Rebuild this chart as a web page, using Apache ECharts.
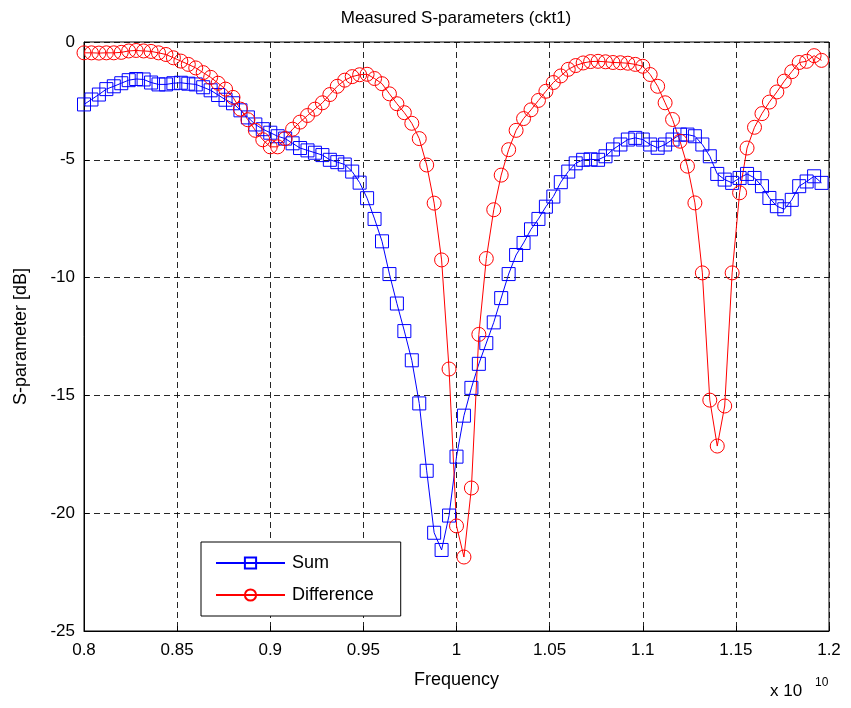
<!DOCTYPE html>
<html>
<head>
<meta charset="utf-8">
<script src="https://cdn.jsdelivr.net/npm/echarts@6/dist/echarts.min.js"></script>
<style>
html,body{margin:0;padding:0;background:#fff;}
#c{width:851px;height:708px;}
</style>
</head>
<body>
<div id="c"></div>
<script>
// Frequency in units of 1e10 Hz
var freq = [0.800,0.804,0.808,0.812,0.816,0.820,0.824,0.828,0.832,0.836,
0.840,0.844,0.848,0.852,0.856,0.860,0.864,0.868,0.872,0.876,
0.880,0.884,0.888,0.892,0.896,0.900,0.904,0.908,0.912,0.916,
0.920,0.924,0.928,0.932,0.936,0.940,0.944,0.948,0.952,0.956,
0.960,0.964,0.968,0.972,0.976,0.980,0.984,0.988,0.992,0.996,
1.000,1.004,1.008,1.012,1.016,1.020,1.024,1.028,1.032,1.036,
1.040,1.044,1.048,1.052,1.056,1.060,1.064,1.068,1.072,1.076,
1.080,1.084,1.088,1.092,1.096,1.100,1.104,1.108,1.112,1.116,
1.120,1.124,1.128,1.132,1.136,1.140,1.144,1.148,1.152,1.156,
1.160,1.164,1.168,1.172,1.176,1.180,1.184,1.188,1.192,1.196];

var sumDb = [-2.65,-2.44,-2.23,-2.0,-1.88,-1.75,-1.62,-1.57,-1.59,-1.72,
-1.8,-1.8,-1.75,-1.73,-1.77,-1.8,-1.92,-2.05,-2.25,-2.45,
-2.6,-2.9,-3.2,-3.5,-3.7,-3.85,-4.0,-4.1,-4.3,-4.5,
-4.6,-4.7,-4.8,-5.0,-5.1,-5.2,-5.5,-5.97,-6.63,-7.51,
-8.46,-9.85,-11.1,-12.27,-13.51,-15.34,-18.2,-20.83,-21.56,-20.1,
-17.6,-15.86,-14.68,-13.66,-12.78,-11.9,-10.87,-9.85,-9.04,-8.53,
-7.95,-7.51,-6.99,-6.56,-5.95,-5.5,-5.15,-5.0,-4.98,-5.0,
-4.85,-4.56,-4.35,-4.14,-4.07,-4.14,-4.35,-4.49,-4.35,-4.14,
-3.93,-3.93,-4.0,-4.35,-4.85,-5.6,-5.84,-5.98,-5.77,-5.6,
-5.77,-6.12,-6.62,-6.97,-7.1,-6.7,-6.12,-5.92,-5.7,-5.98];

var diffDb = [-0.46,-0.46,-0.47,-0.46,-0.46,-0.44,-0.38,-0.36,-0.38,-0.4,
-0.46,-0.53,-0.67,-0.81,-0.95,-1.1,-1.3,-1.5,-1.75,-2.0,
-2.35,-2.85,-3.3,-3.75,-4.15,-4.45,-4.45,-4.1,-3.7,-3.4,
-3.12,-2.85,-2.58,-2.23,-1.88,-1.62,-1.47,-1.39,-1.37,-1.55,
-1.77,-2.2,-2.62,-3.0,-3.45,-4.1,-5.22,-6.84,-9.25,-13.88,
-20.54,-21.86,-18.93,-12.41,-9.19,-7.12,-5.65,-4.57,-3.75,-3.25,
-2.88,-2.48,-2.09,-1.72,-1.44,-1.16,-1.0,-0.89,-0.83,-0.82,
-0.84,-0.87,-0.88,-0.9,-0.95,-1.03,-1.38,-1.88,-2.58,-3.29,
-4.21,-5.27,-6.83,-9.8,-15.2,-17.15,-15.45,-9.8,-6.4,-4.5,
-3.62,-3.04,-2.55,-2.12,-1.66,-1.26,-0.87,-0.82,-0.58,-0.78];

var xTicks = ['0.8','0.85','0.9','0.95','1','1.05','1.1','1.15','1.2'];
var seriesNames = ['Sum','Difference'];
var titleText = 'Measured S-parameters (ckt1)';
var xLabel = 'Frequency';
var yLabel = 'S-parameter [dB]';

function pairs(xs, ys){ var out=[]; for(var i=0;i<xs.length;i++){ out.push([xs[i], ys[i]]); } return out; }

var FONT = '"Liberation Sans", Arial, sans-serif';
var chart = echarts.init(document.getElementById('c'), null, {renderer:'canvas'});
var gridStyle = {show:true, lineStyle:{color:'#000', type:[6,4], width:1, opacity:0.85}};
chart.setOption({
  animation:false,
  backgroundColor:'#fff',
  textStyle:{fontFamily:FONT},
  grid:{left:84, top:42, width:745, height:589, show:true, borderColor:'#000', borderWidth:1, backgroundColor:'transparent'},
  xAxis:{
    type:'value', min:0.8, max:1.2, interval:0.05,
    name:xLabel, nameLocation:'middle', nameGap:40,
    nameTextStyle:{fontSize:18, color:'#000', fontFamily:FONT},
    axisLine:{show:true, onZero:false, lineStyle:{color:'#000'}},
    axisTick:{show:true, inside:true, length:5, lineStyle:{color:'#000'}},
    axisLabel:{fontSize:17, color:'#000', margin:11, fontFamily:FONT,
      formatter:function(v){ var i=Math.round((v-0.8)/0.05); return xTicks[i]!==undefined?xTicks[i]:''; }},
    splitLine:gridStyle
  },
  yAxis:{
    type:'value', min:-25, max:0, interval:5,
    name:yLabel, nameLocation:'middle', nameGap:54, nameRotate:90,
    nameTextStyle:{fontSize:18, color:'#000', fontFamily:FONT},
    axisLine:{show:true, onZero:false, lineStyle:{color:'#000'}},
    axisTick:{show:true, inside:true, length:5, lineStyle:{color:'#000'}},
    axisLabel:{fontSize:17, color:'#000', margin:9, fontFamily:FONT},
    splitLine:gridStyle
  },
  legend:{
    orient:'vertical', left:201, top:542,
    backgroundColor:'#fff', borderColor:'#000', borderWidth:1,
    padding:[12,27,12,14], itemGap:14,
    itemWidth:69, itemHeight:14,
    textStyle:{fontSize:18, color:'#000', fontFamily:FONT, padding:[0,0,0,2]},
    data:seriesNames
  },
  series:[
    {name:seriesNames[0], type:'line', data:pairs(freq,sumDb), color:'#0000ff',
     symbol:'rect', symbolSize:13, showAllSymbol:true,
     itemStyle:{color:'none', borderColor:'#0000ff', borderWidth:1},
     lineStyle:{color:'#0000ff', width:1}},
    {name:seriesNames[1], type:'line', data:pairs(freq,diffDb), color:'#ff0000',
     symbol:'circle', symbolSize:14, showAllSymbol:true,
     itemStyle:{color:'none', borderColor:'#ff0000', borderWidth:1},
     lineStyle:{color:'#ff0000', width:1}}
  ],
  graphic:[
    {type:'text', x:456, y:10, style:{text:titleText, fontSize:17, fill:'#000', fontFamily:FONT, textAlign:'center', textVerticalAlign:'top'}},
    {type:'text', x:770, y:683, style:{text:'x 10', fontSize:17, fill:'#000', fontFamily:FONT, textAlign:'left', textVerticalAlign:'top'}},
    {type:'text', x:815, y:677, style:{text:'10', fontSize:12, fill:'#000', fontFamily:FONT, textAlign:'left', textVerticalAlign:'top'}}
  ]
});
</script>
</body>
</html>
